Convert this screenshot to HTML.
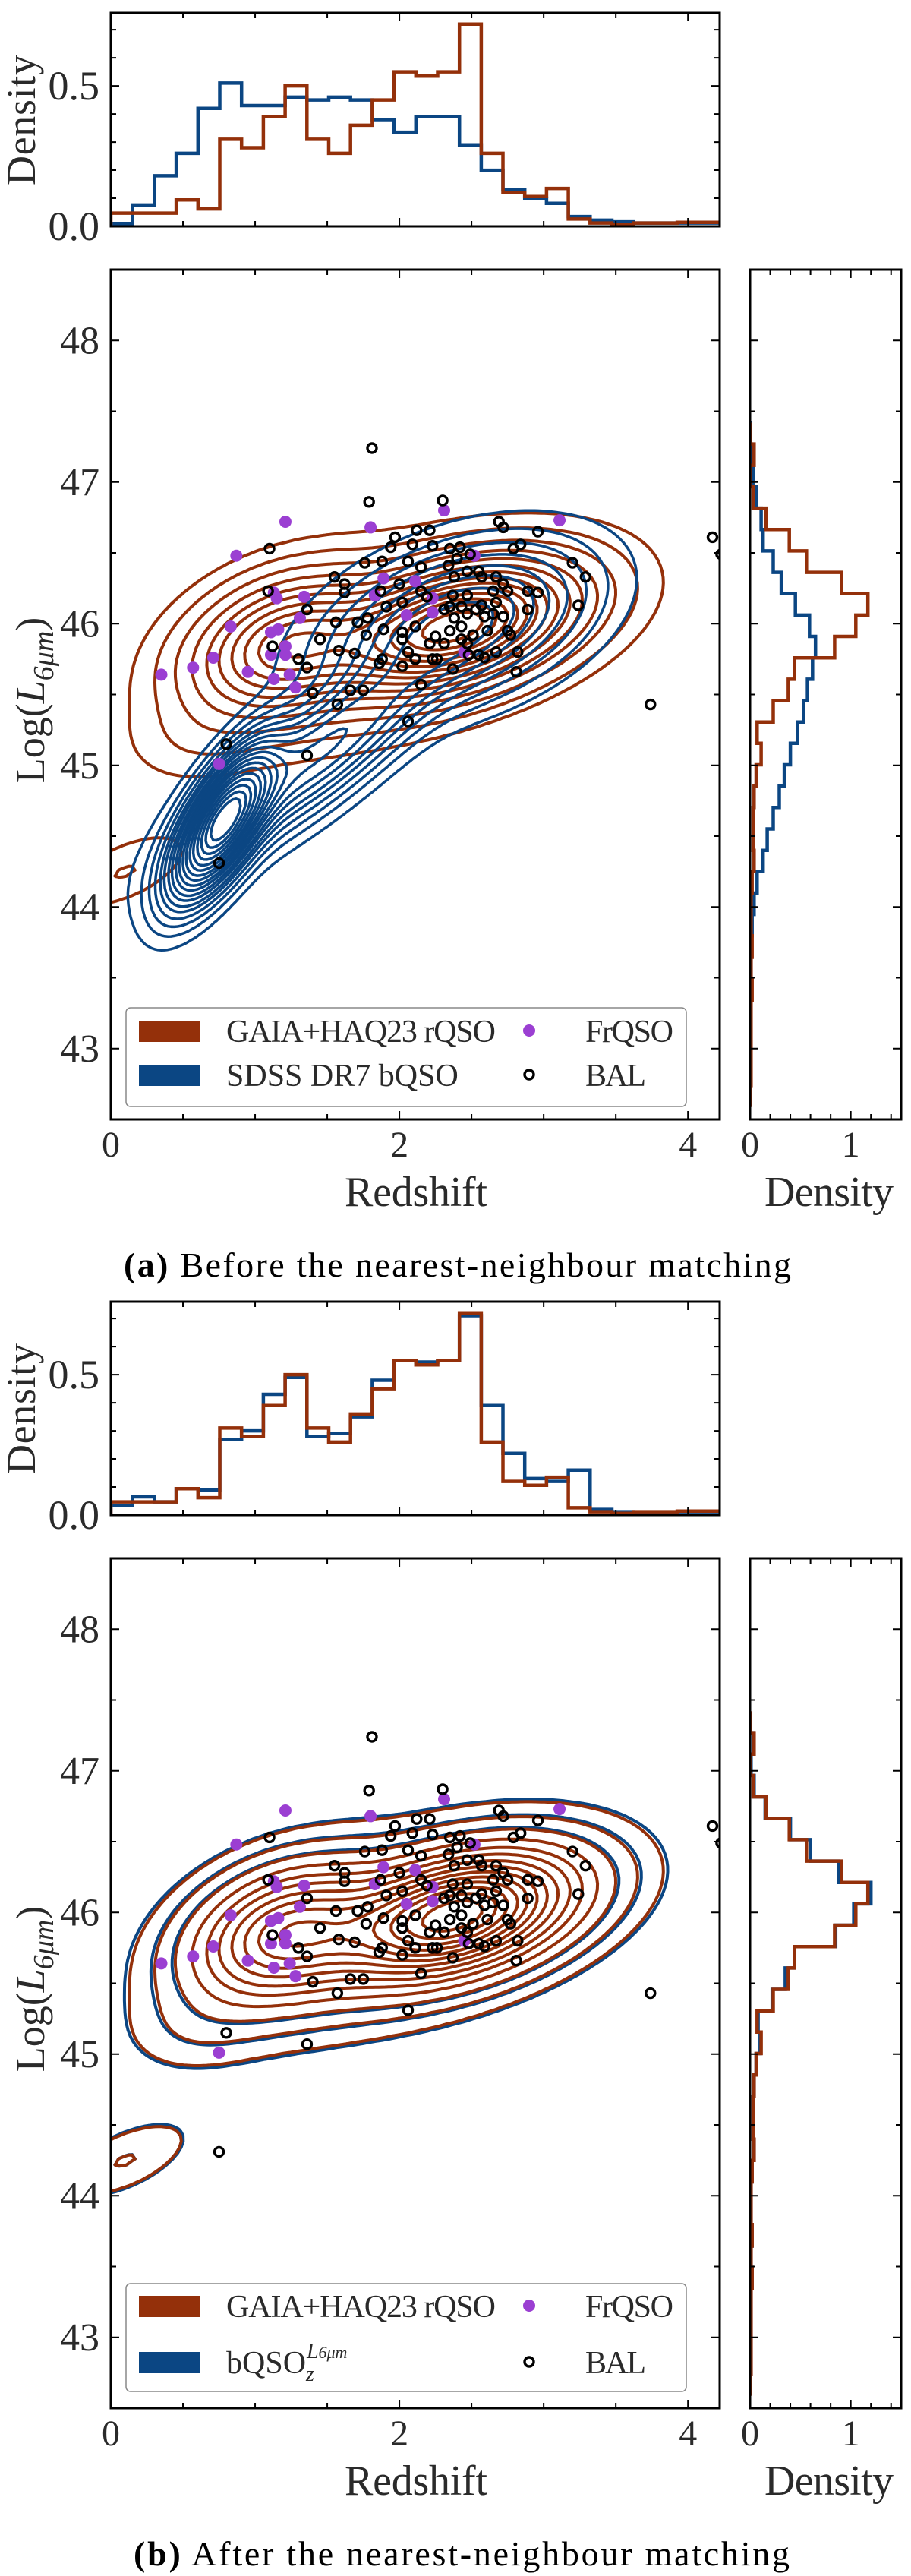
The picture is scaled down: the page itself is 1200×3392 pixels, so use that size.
<!DOCTYPE html>
<html><head><meta charset="utf-8"><style>
html,body{margin:0;padding:0;background:#fff;}
svg{display:block;}
text{font-family:"Liberation Serif","Times New Roman",serif;}
</style></head><body>
<svg id="fig" width="1200" height="3392" viewBox="0 0 1200 3392" xmlns="http://www.w3.org/2000/svg" font-family="Liberation Serif, serif"></svg>
<script>
// ---------- data ----------
const zBinStart = 0, zBinWidth = 0.151;
const topRedA  = [0.047,0.047,0.047,0.094,0.062,0.31,0.28,0.39,0.50,0.31,0.26,0.36,0.45,0.55,0.535,0.55,0.72,0.26,0.12,0.106,0.135,0.026,0.012,0.006,0.012,0.012,0.014,0.014];
const topBlueA = [0.01,0.076,0.18,0.26,0.42,0.51,0.43,0.43,0.46,0.45,0.46,0.45,0.38,0.335,0.39,0.39,0.29,0.20,0.13,0.10,0.082,0.035,0.022,0.016,0.012,0.012,0.012,0.012];
const topRedB  = topRedA;
const topBlueB = [0.035,0.065,0.047,0.094,0.09,0.27,0.30,0.43,0.49,0.28,0.29,0.35,0.48,0.55,0.545,0.55,0.71,0.39,0.22,0.13,0.12,0.16,0.02,0.012,0.004,0.004,0.012,0.012];
const lBinTop = 47.42, lBinWidth = 0.151;
const rightRedA  = [0,0.04,0,0.03,0.16,0.39,0.56,0.91,1.17,1.05,0.84,0.44,0.38,0.23,0.07,0.11,0.06,0.04,0.03,0.03,0.04,0.02,0.01,0.01,0.02,0.01,0.02,0.01,0.01,0.01,0.01,0.005];
const rightBlueA = [0.004,0.01,0.03,0.06,0.11,0.13,0.23,0.31,0.45,0.59,0.65,0.62,0.57,0.53,0.47,0.40,0.34,0.29,0.23,0.17,0.13,0.07,0.04,0.02,0.01,0.01,0.005,0.005,0.004,0.003,0.003,0.002];
const rightRedB  = rightRedA;
const rightBlueB = [0,0.03,0.01,0.04,0.15,0.40,0.60,0.88,1.20,1.03,0.85,0.44,0.35,0.22,0.08,0.10,0.06,0.04,0.03,0.03,0.04,0.02,0.01,0.01,0.02,0.01,0.02,0.01,0.01,0.01,0.01,0.005];
// KDE mixture components (z, logL, sigma_z, sigma_L, rho, weight)
const redComp  = [[2.4,45.98,0.5,0.27,0.4,1.0],[1.2,45.85,0.38,0.28,0.3,0.55],[1.8,45.85,0.75,0.42,0.45,0.1],[0.6,45.2,0.3,0.2,0.2,0.03],[0.1,44.25,0.28,0.17,0.6,0.05]];
const blueCompA= [[0.78,44.6,0.2,0.3,0.7,1.0],[1.45,45.1,0.5,0.42,0.85,0.3],[2.4,46.0,0.5,0.32,0.4,0.25]];
const blueCompB= [[2.4,45.98,0.51,0.275,0.4,1.0],[1.2,45.85,0.39,0.285,0.3,0.55],[1.8,45.85,0.77,0.43,0.45,0.1],[0.6,45.2,0.31,0.21,0.2,0.03],[0.1,44.25,0.29,0.18,0.6,0.05]];
const redLevels  = [0.018,0.045,0.09,0.15,0.22,0.29,0.37,0.45,0.53,0.61,0.69,0.77,0.85,0.93];
const blueLevelsA= [0.01,0.025,0.045,0.07,0.1,0.13,0.17,0.21,0.26,0.31,0.37,0.43,0.5,0.57,0.65,0.73,0.81,0.89];
const blueLevelsB= [0.018,0.045,0.09];
const frZ = [0.87,1.21,1.80,2.31,3.11,1.13,1.15,1.34,1.31,0.83,1.11,1.16,1.11,1.21,1.21,0.35,0.57,0.71,0.95,1.13,1.24,1.28,0.75,1.83,1.89,2.11,2.23,2.23,2.05,2.52,2.45];
const frL = [46.48,46.72,46.68,46.80,46.73,46.22,46.18,46.19,46.04,45.98,45.94,45.96,45.78,45.84,45.78,45.64,45.69,45.76,45.66,45.61,45.64,45.55,45.01,46.20,46.32,46.30,46.18,46.08,46.06,46.48,45.80];
const balZ = [1.81,1.79,2.30,1.10,2.69,2.72,2.96,4.17,4.23,2.12,2.21,1.97,1.94,2.09,2.23,2.35,2.42,1.76,1.88,2.06,2.15,2.34,2.40,2.49,2.79,2.84,3.20,3.29,3.24,3.74,1.55,1.62,1.62,1.09,1.36,1.87,2.00,2.15,2.38,2.47,2.55,2.57,2.67,2.72,2.65,2.75,2.89,2.96,2.89,1.91,2.02,2.19,2.37,2.47,2.57,2.67,2.31,2.35,2.43,2.47,2.53,2.59,2.65,2.72,1.56,1.71,1.78,1.89,2.02,2.11,2.25,2.35,2.43,2.51,2.61,2.75,2.77,1.45,1.58,1.69,1.77,2.02,2.06,2.11,2.23,2.26,2.37,2.48,2.59,2.67,2.82,2.81,2.02,2.15,1.30,1.36,1.12,1.40,1.57,1.66,1.75,2.06,0.80,1.36,0.75,1.86,1.88,2.47,2.55,2.31,2.21,2.38,2.43];
const balL = [47.24,46.86,46.87,46.53,46.72,46.68,46.65,46.61,46.49,46.66,46.66,46.61,46.54,46.56,46.55,46.53,46.54,46.43,46.44,46.44,46.40,46.41,46.46,46.49,46.53,46.56,46.43,46.33,46.13,45.43,46.33,46.28,46.22,46.23,46.10,46.23,46.28,46.23,46.33,46.37,46.37,46.33,46.33,46.28,46.23,46.23,46.23,46.22,46.10,46.12,46.15,46.19,46.20,46.20,46.13,46.15,46.10,46.12,46.12,46.07,46.10,46.05,46.07,46.05,46.01,46.01,46.04,45.96,45.94,45.98,45.91,45.95,45.98,45.92,45.95,45.95,45.92,45.89,45.81,45.79,45.92,45.89,45.80,45.75,45.75,45.75,45.68,45.78,45.76,45.80,45.80,45.66,45.70,45.57,45.75,45.69,45.84,45.51,45.43,45.53,45.53,45.31,45.15,45.07,44.31,45.72,45.75,45.86,45.78,45.86,45.86,46.04,45.89];
const zTicks = [0,2,4], lTicks = [43,44,45,46,47,48], dTicks = [0.0,0.5], rTicks = [0,1];

// ---------- helpers ----------
const NS="http://www.w3.org/2000/svg";
const svg=document.getElementById('fig');
const RED="#94300a", BLUE="#0b4683";
const FF="Liberation Serif, Times New Roman, serif";
function mk(tag,attrs,parent){const e=document.createElementNS(NS,tag);for(const k in attrs)e.setAttribute(k,attrs[k]);(parent||svg).appendChild(e);return e;}
function txt(x,y,s,size,anchor,parent,extra){const t=mk('text',Object.assign({x:x,y:y,'font-size':size,'font-family':FF,'text-anchor':anchor||'middle',fill:'#2a2a2a'},extra||{}),parent);t.textContent=s;return t;}

function density(comps,z,l){let s=0;for(const c of comps){const dz=(z-c[0])/c[2],dl=(l-c[1])/c[3],r=c[4];const q=(dz*dz-2*r*dz*dl+dl*dl)/(1-r*r);s+=c[5]*Math.exp(-0.5*q);}return s;}

function contourPaths(comps,levels,sx,sy,g,color,width){
  const nx=200,ny=150,z0=-0.1,z1=4.4,l0=42.4,l1=48.6;
  const F=[];let mx=0;
  for(let j=0;j<=ny;j++){F.push([]);for(let i=0;i<=nx;i++){const v=density(comps,z0+(z1-z0)*i/nx,l0+(l1-l0)*j/ny);F[j].push(v);if(v>mx)mx=v;}}
  const X=i=>sx(z0+(z1-z0)*i/nx), Y=j=>sy(l0+(l1-l0)*j/ny);
  levels.forEach((lv,k)=>{
    const t=lv*mx;let d='';
    for(let j=0;j<ny;j++)for(let i=0;i<nx;i++){
      const a=F[j][i],b=F[j][i+1],c=F[j+1][i+1],e=F[j+1][i];
      const idx=(a>t?1:0)|(b>t?2:0)|(c>t?4:0)|(e>t?8:0);
      if(idx===0||idx===15)continue;
      const pB=[X(i+(t-a)/(b-a)),Y(j)], pR=[X(i+1),Y(j+(t-b)/(c-b))], pT=[X(i+(t-e)/(c-e)),Y(j+1)], pL=[X(i),Y(j+(t-a)/(e-a))];
      const segs={1:[[pL,pB]],2:[[pB,pR]],3:[[pL,pR]],4:[[pR,pT]],5:[[pL,pT],[pB,pR]],6:[[pB,pT]],7:[[pL,pT]],8:[[pT,pL]],9:[[pT,pB]],10:[[pT,pR],[pL,pB]],11:[[pT,pR]],12:[[pR,pL]],13:[[pR,pB]],14:[[pB,pL]]}[idx];
      for(const s of segs)d+='M'+s[0][0].toFixed(1)+' '+s[0][1].toFixed(1)+'L'+s[1][0].toFixed(1)+' '+s[1][1].toFixed(1);
    }
    const p=mk('path',{d:d,fill:'none',stroke:color,'stroke-width':width,'stroke-linecap':'round'},g);
    
    
  });
}

function panel(off,o){
  const g=mk('g',{});
  
  
  const mL=146,mR=948,mT=355+off,mB=1474+off;
  const hT=17+off,hB=298+off;
  const rL=988,rR=1187;
  const sx=z=>mL+(z-0)/(4.22)*(mR-mL);
  const sy=l=>mB-(l-42.5)/6*(mB-mT);
  const hy=v=>hB-v/0.76*(hB-hT);
  const rx=v=>rL+v/1.5*(rR-rL);
  const clipId='clip'+off;
  const cp=mk('clipPath',{id:clipId},g);mk('rect',{x:mL,y:mT,width:mR-mL,height:mB-mT},cp);
  const cpt=mk('clipPath',{id:clipId+'t'},g);mk('rect',{x:mL,y:hT,width:mR-mL,height:hB-hT},cpt);
  const cpr=mk('clipPath',{id:clipId+'r'},g);mk('rect',{x:rL,y:mT,width:rR-rL,height:mB-mT},cpr);

  const th=mk('g',{'clip-path':'url(#'+clipId+'t)'},g);
  
  
  [[o.topBlue,BLUE,'blue'],[o.topRed,RED,'red']].forEach(([vals,col,nm])=>{
    let d='M'+sx(zBinStart)+' '+hB;
    vals.forEach((v,i)=>{d+='L'+sx(zBinStart+i*zBinWidth).toFixed(1)+' '+hy(v).toFixed(1)+'L'+sx(zBinStart+(i+1)*zBinWidth).toFixed(1)+' '+hy(v).toFixed(1);});
    d+='L'+sx(zBinStart+vals.length*zBinWidth).toFixed(1)+' '+hB;
    const p=mk('path',{d:d,fill:'none',stroke:col,'stroke-width':4.5},th);
    
    
  });
  const mg=mk('g',{'clip-path':'url(#'+clipId+')'},g);
  
  
  if(o.blueFirst){contourPaths(o.blueComp,o.blueLevels,sx,sy,mg,BLUE,4);contourPaths(redComp,redLevels,sx,sy,mg,RED,4);}
  else{contourPaths(redComp,redLevels,sx,sy,mg,RED,4);contourPaths(o.blueComp,o.blueLevels,sx,sy,mg,BLUE,3.5);}
  frZ.forEach((z,i)=>{const c=mk('ellipse',{cx:sx(z),cy:sy(frL[i]),rx:8,ry:8,fill:'#9b3fd2'},mg);
    
    });
  balZ.forEach((z,i)=>{const c=mk('circle',{cx:sx(z),cy:sy(balL[i]),r:6,fill:'none',stroke:'#000','stroke-width':3.4},mg);
    
    });
  const rh=mk('g',{'clip-path':'url(#'+clipId+'r)'},g);
  
  
  [[o.rightBlue,BLUE,'blue'],[o.rightRed,RED,'red']].forEach(([vals,col,nm])=>{
    let d='M'+rL+' '+sy(lBinTop).toFixed(1);
    vals.forEach((v,i)=>{d+='L'+rx(v).toFixed(1)+' '+sy(lBinTop-i*lBinWidth).toFixed(1)+'L'+rx(v).toFixed(1)+' '+sy(lBinTop-(i+1)*lBinWidth).toFixed(1);});
    const p=mk('path',{d:d,fill:'none',stroke:col,'stroke-width':4.5},rh);
    
    
  });
  const ax=mk('g',{stroke:'#000',fill:'none'},g);
  
  
  [[mL,hT,mR,hB],[mL,mT,mR,mB],[rL,mT,rR,mB]].forEach(r=>mk('rect',{x:r[0],y:r[1],width:r[2]-r[0],height:r[3]-r[1],'stroke-width':3},ax));
  let td='';
  const vt=(x,y0,y1,len)=>{td+=`M${x} ${y0}v${-len}M${x} ${y1}v${len}`;};
  const ht=(y,x0,x1,len)=>{td+=`M${x0} ${y}h${len}M${x1} ${y}h${-len}`;};
  for(let z=0;z<=4.2;z+=0.5){const len=(Math.abs(z%2)<1e-6)?11:7;const x=sx(z);vt(x,mB,mT,len);vt(x,hB,hT,len);}
  for(let l=43;l<=48.01;l+=0.5){const len=(Math.abs(l%1)<1e-6)?11:7;const y=sy(l);ht(y,mL,mR,len);ht(y,rL,rR,len);}
  for(let v=0;v<=0.75;v+=0.1){const len=(Math.abs(v*10%5)<1e-6)?11:7;ht(hy(v),mL,mR,len);}
  for(let v=0;v<=1.45;v+=0.2){vt(rx(v),mB,mT,7);}
  vt(rx(1),mB,mT,11);
  mk('path',{d:td,'stroke-width':2},ax);
  zTicks.forEach(z=>{const t=txt(sx(z),1523+off,String(z),48,'middle',g);});
  rTicks.forEach(v=>{const t=txt(rx(v),1523+off,String(v),48,'middle',g);});
  lTicks.forEach(l=>{const t=txt(131,sy(l)+17,String(l),52,'end',g);});
  dTicks.forEach(v=>{const t=txt(131,hy(v)+18,v.toFixed(1),54,'end',g);});
  let t=txt(548,1588+off,'Redshift',56,'middle',g,{textLength:188});
  t=txt(1092,1588+off,'Density',56,'middle',g,{textLength:170});
  t=txt(0,0,'Density',54,'middle',g,{transform:`translate(46,${158+off}) rotate(-90)`,textLength:172});
  const yl=mk('text',{transform:`translate(58,${922+off}) rotate(-90)`,'font-size':54,'font-family':FF,'text-anchor':'middle',fill:'#2a2a2a'},g);
  
  
  yl.innerHTML='Log(<tspan font-style="italic">L</tspan><tspan font-size="38" dy="12" font-style="italic">6μm</tspan><tspan dy="-12">)</tspan>';
  const lg=mk('g',{},g);
  
  
  const L=o.leg;
  mk('rect',{x:166,y:L.top+off,width:738,height:L.h,rx:6,fill:'#fff','fill-opacity':0.85,stroke:'#888','stroke-width':1.5},lg);
  mk('rect',{x:183,y:L.r1+off,width:81,height:28,fill:RED},lg);
  mk('rect',{x:183,y:L.r2+off,width:81,height:28,fill:BLUE},lg);
  txt(298,L.r1+off+28,'GAIA+HAQ23 rQSO',42,'start',lg,{textLength:355});
  const t2=mk('text',{x:298,y:L.r2+off+28,'font-size':42,'font-family':FF,fill:'#2a2a2a'},lg);
  t2.innerHTML=o.label2;
  mk('circle',{cx:697,cy:L.r1+off+13,r:8,fill:'#9b3fd2'},lg);
  mk('circle',{cx:697,cy:L.r2+off+13,r:6,fill:'none',stroke:'#000','stroke-width':3.4},lg);
  txt(771,L.r1+off+28,'FrQSO',42,'start',lg,{textLength:116});
  txt(771,L.r2+off+28,'BAL',42,'start',lg,{textLength:80});
  const cap=mk('text',{x:o.capX,y:1681+off,'font-size':46,'font-family':FF,fill:'#000',textLength:o.capW},g);
  
  
  cap.innerHTML='<tspan font-weight="bold">'+o.capA+'</tspan> '+o.capB;
}

panel(0,{name:'panel-a',topRed:topRedA,topBlue:topBlueA,rightRed:rightRedA,rightBlue:rightBlueA,blueComp:blueCompA,blueLevels:blueLevelsA,blueFirst:false,
  leg:{top:1327,h:130,r1:1344,r2:1402},label2:'SDSS DR7 bQSO',capX:163,capW:879,capA:'(a)',capB:'Before the nearest-neighbour matching'});
panel(1697,{name:'panel-b',topRed:topRedB,topBlue:topBlueB,rightRed:rightRedB,rightBlue:rightBlueB,blueComp:blueCompB,blueLevels:blueLevelsB,blueFirst:true,
  leg:{top:1310,h:142,r1:1326,r2:1400},label2:'bQSO<tspan font-size="28" dy="10" font-style="italic">z</tspan><tspan font-size="28" dy="-30" dx="-10" font-style="italic">L</tspan><tspan font-size="22" font-style="italic">6μm</tspan>',capX:176,capW:864,capA:'(b)',capB:'After the nearest-neighbour matching'});
</script>
</body></html>
